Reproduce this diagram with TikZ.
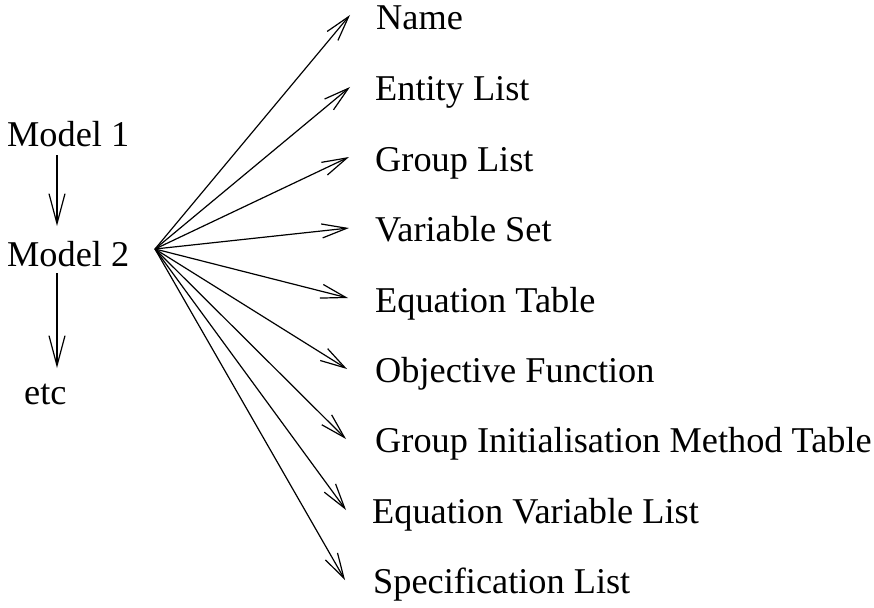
\documentclass[tikz,border=0pt]{standalone}
\usepackage{fontspec}
\setmainfont{Liberation Serif}
\usetikzlibrary{arrows.meta}
\begin{document}
\begin{tikzpicture}[x=1pt,y=-1pt,
  lbl/.style={anchor=base west,inner sep=0pt,font=\fontsize{36.3}{43}\selectfont},
  fan/.style={line width=1.2pt,-{Straight Barb[length=25pt,width=14pt,line width=1.2pt]}},
  vert/.style={line width=1.2pt,-{Straight Barb[length=30pt,width=16pt,line width=1.2pt]}}]
\useasboundingbox (0,0) rectangle (874,607);
% left chain
\node[lbl] (m1) at (7,146) {Model 1};
\node[lbl] (m2) at (7,266) {Model 2};
\node[lbl] (etc) at (24,404) {etc};
\coordinate (a1s) at (57,155);
\coordinate (a1e) at (57,226);
\coordinate (a2s) at (57,273);
\coordinate (a2e) at (57,368);
\draw[vert] (a1s) -- (a1e);
\draw[vert] (a2s) -- (a2e);
% hub
\coordinate (hub) at (155,249);
% right labels
\node[lbl] (r1) at (376,30) {Name};
\node[lbl] (r2) at (375,101) {Entity List};
\node[lbl] (r3) at (375,171) {Group List};
\node[lbl] (r4) at (375,241.5) {Variable Set};
\node[lbl] (r5) at (375,312) {Equation Table};
\node[lbl] (r6) at (375,382.5) {Objective Function};
\node[lbl] (r7) at (375,452.5) {Group Initialisation Method Table};
\node[lbl] (r8) at (372,523) {Equation Variable List};
\node[lbl] (r9) at (373,593) {Specification List};
% tips
\coordinate (t1) at (350,15);
\coordinate (t2) at (350,87);
\coordinate (t3) at (349,157);
\coordinate (t4) at (349,228);
\coordinate (t5) at (348,298);
\coordinate (t6) at (347,369);
\coordinate (t7) at (346,439);
\coordinate (t8) at (346,510);
\coordinate (t9) at (345,580);
\foreach \i in {1,...,9}{\draw[fan] (hub) -- (t\i);}
\end{tikzpicture}
\end{document}
